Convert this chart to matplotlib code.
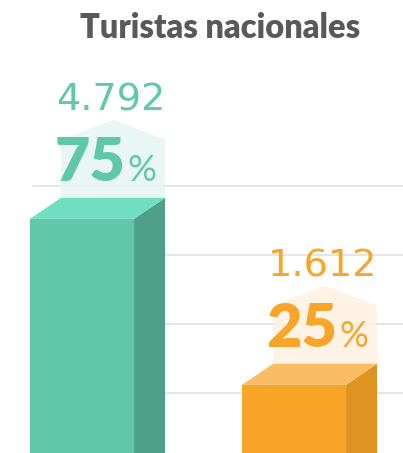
import matplotlib.pyplot as plt
from matplotlib.patches import Polygon

# datos
grupos = ['A', 'B']
valores = [4792, 1612]
etiquetas = ['4.792', '1.612']
porcentajes = ['75', '25']
grid_vals = [1450, 2775, 4100, 5425]

c_front = ['#60c7a9', '#f8a529']
c_side = ['#4ea088', '#df9422']
c_top = ['#6edfbf', '#fabd64']
c_pent = ['#e6f5f1', '#fef2e1']
c_text = ['#5ec8a8', '#f8a52b']

fig = plt.figure(figsize=(4.03, 4.53), dpi=100)
ax = fig.add_axes([0, 0, 1, 1])
x0, x1 = -0.387, 1.514
y0, y1 = 306, 8985
ax.set_xlim(x0, x1)
ax.set_ylim(y0, y1)
ax.axis('off')

# pixel -> unidades
px = (x1 - x0) / 403
py = (y1 - y0) / 453
w = 104 * px
dx, dy = 31 * px, 21 * py

for g in grid_vals:
    ax.axhline(g, xmin=33 / 403, xmax=1, color='#e0e0e0', lw=1.2, zorder=0)

for i, v in enumerate(valores):
    xl, xr = i - w / 2, i + w / 2
    ax.bar(i, v, width=w, color=c_front[i], zorder=2)
    ax.add_patch(Polygon([(xr, 0), (xr, v), (xr + dx, v + dy), (xr + dx, 0)],
                         closed=True, fc=c_side[i], ec='none', zorder=2))
    ax.add_patch(Polygon([(xl, v), (xr, v), (xr + dx, v + dy), (xl + dx, v + dy)],
                         closed=True, fc=c_top[i], ec='none', zorder=2))
    top = v + dy
    ax.add_patch(Polygon([(xl + dx, top), (xr + dx, top), (xr + dx, top + 58 * py),
                          (i + dx, top + 78 * py), (xl + dx, top + 58 * py)],
                         closed=True, fc=c_pent[i], ec='none', alpha=0.85, zorder=1))
    ax.text(i + dx - 2 * px, top + 87 * py, etiquetas[i], ha='center', va='baseline',
            fontsize=27.5, color=c_text[i], family='DejaVu Sans')
    sx = i + dx + 12 * px
    ax.text(sx, top + 17 * py, porcentajes[i], ha='right', va='baseline',
            fontsize=44, fontweight='heavy', color=c_text[i], family='Lato')
    ax.text(sx + 2 * px, top + 17 * py, '%', ha='left', va='baseline',
            fontsize=26, color=c_text[i], family='Lato')

fig.text(220 / 403, 1 - 38 / 453, 'Turistas nacionales', ha='center', va='baseline',
         fontsize=23.5, fontweight='heavy', color='#595959', family='Lato')

plt.savefig('out.png', dpi=100)
